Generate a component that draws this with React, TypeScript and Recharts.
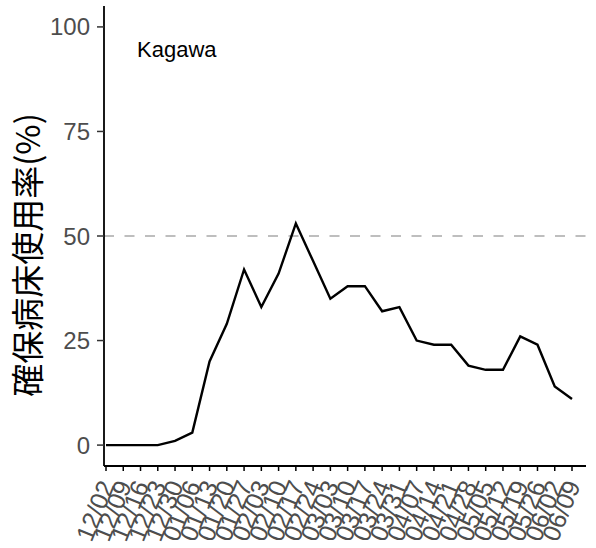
import React from 'react';
import { LineChart, Line, XAxis, YAxis, ReferenceLine } from 'recharts';

const dates = [
  '12/02', '12/09', '12/16', '12/23', '12/30', '01/06', '01/13', '01/20', '01/27',
  '02/03', '02/10', '02/17', '02/24', '03/03', '03/10', '03/17', '03/24', '03/31',
  '04/07', '04/14', '04/21', '04/28', '05/05', '05/12', '05/19', '05/26', '06/02', '06/09',
];
const occupancy = [
  0, 0, 0, 0, 1, 3, 20, 29, 42, 33, 41, 53, 44, 35,
  38, 38, 32, 33, 25, 24, 24, 19, 18, 18, 26, 24, 14, 11,
];
const yTicks = [0, 25, 50, 75, 100];
const threshold = 50;
const prefecture = 'Kagawa';
const yTitle = '確保病床使用率(%)';

const data = dates.map((date, i) => ({ date, value: occupancy[i] }));

const FONT = '"Liberation Sans", Arial, sans-serif';

const DateTick = (props: any) => {
  const { x, y, payload } = props;
  const ax = x + 9;
  const ay = y + 12;
  return (
    <text
      x={ax}
      y={ay}
      transform={`rotate(-68, ${ax}, ${ay})`}
      textAnchor="end"
      fontSize={25}
      fontFamily={FONT}
      fill="#4d4d4d"
    >
      {payload.value}
    </text>
  );
};

const App: React.FC = () => {
  return (
    <div style={{ position: 'absolute', left: 0, top: 0, width: 596, height: 548, background: '#fff', overflow: 'hidden' }}>
      <LineChart
        width={596}
        height={548}
        data={data}
        margin={{ top: 6, right: 10, bottom: 0, left: 0 }}
      >
        <XAxis
          dataKey="date"
          interval={0}
          padding={{ left: 2, right: 14 }}
          height={82}
          tickSize={5}
          axisLine={{ stroke: '#000', strokeWidth: 1.8 }}
          tickLine={{ stroke: '#000', strokeWidth: 1.5 }}
          tick={<DateTick />}
        />
        <YAxis
          type="number"
          domain={[-5, 105]}
          ticks={yTicks}
          width={104}
          tickSize={7}
          tickMargin={7}
          axisLine={{ stroke: '#000', strokeWidth: 1.8 }}
          tickLine={{ stroke: '#333', strokeWidth: 1.5 }}
          tick={{ fontSize: 24, fontFamily: FONT, fill: '#4d4d4d' }}
        />
        <ReferenceLine
          y={threshold}
          stroke="#bebebe"
          strokeWidth={2}
          strokeDasharray="10 10.5"
        />
        <Line
          type="linear"
          dataKey="value"
          stroke="#000"
          strokeWidth={2.4}
          dot={false}
          isAnimationActive={false}
        />
      </LineChart>
      <svg
        width={596}
        height={548}
        style={{ position: 'absolute', left: 0, top: 0, pointerEvents: 'none' }}
      >
        <text x={137} y={57} fontSize={22} fontFamily={FONT} fill="#000">
          {prefecture}
        </text>
        <text
          x={40}
          y={255}
          transform="rotate(-90, 40, 255)"
          textAnchor="middle"
          fontSize={33}
          fontFamily='"Noto Sans CJK JP", sans-serif'
          fill="#000"
        >
          {yTitle}
        </text>
      </svg>
    </div>
  );
};

export default App;
